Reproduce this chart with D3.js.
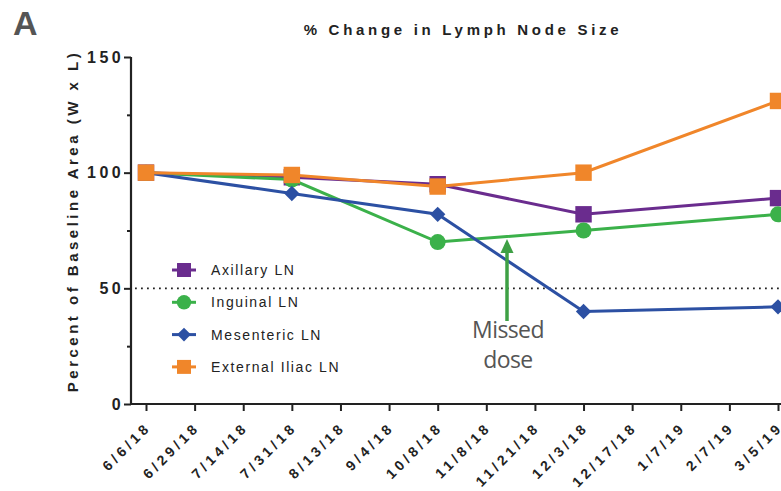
<!DOCTYPE html>
<html>
<head>
<meta charset="utf-8">
<script src="https://cdn.jsdelivr.net/npm/d3@7"></script>
<style>
  body { margin: 0; background: #fff; }
  svg { display: block; font-family: Arial, "Liberation Sans", sans-serif; }
</style>
</head>
<body>
<div id="chart"></div>
<script>
// tick labels along the x axis (categorical, evenly spaced)
var dates = ['6/6/18', '6/29/18', '7/14/18', '7/31/18', '8/13/18', '9/4/18', '10/8/18',
  '11/8/18', '11/21/18', '12/3/18', '12/17/18', '1/7/19', '2/7/19', '3/5/19'];

// dates that were measured
var visits = ['6/6/18', '7/31/18', '10/8/18', '12/3/18', '3/5/19'];

var seriesNames = ['Axillary LN', 'Inguinal LN', 'Mesenteric LN', 'External Iliac LN'];
var axillary = [100, 98, 95, 82, 89];
var inguinal = [100, 97, 70, 75, 82];
var mesenteric = [100, 91, 82, 40, 42];
var iliac = [100, 99, 94, 100, 131];

var yTicks = [0, 50, 100, 150];
var yMinor = [25, 75, 125];

var width = 781, height = 491;
var margin = {left: 131, top: 57, right: 3, bottom: 87};

var svg = d3.select('#chart').append('svg')
  .attr('width', width)
  .attr('height', height);

var x = d3.scalePoint()
  .domain(dates)
  .range([146, 778]);

var y = d3.scaleLinear()
  .domain([0, 150])
  .range([height - margin.bottom, margin.top]);

var series = [
  {name: seriesNames[0], values: axillary, color: '#6a2c8e', shape: 'square'},
  {name: seriesNames[1], values: inguinal, color: '#3bb14a', shape: 'circle'},
  {name: seriesNames[2], values: mesenteric, color: '#2c50a3', shape: 'diamond'},
  {name: seriesNames[3], values: iliac, color: '#f0862a', shape: 'square'}
];

function symbolPath(shape) {
  if (shape === 'square') return d3.symbol().type(d3.symbolSquare).size(270)();
  if (shape === 'circle') return d3.symbol().type(d3.symbolCircle).size(200)();
  return d3.symbol().type(d3.symbolDiamond2).size(150)();
}

// title + panel letter
svg.append('text')
  .attr('x', 13).attr('y', 35)
  .style('font-size', '34px').style('font-weight', 'bold')
  .attr('fill', '#555')
  .text('A');

svg.append('text')
  .attr('x', 463).attr('y', 35)
  .attr('text-anchor', 'middle')
  .style('font-size', '15px').style('font-weight', 'bold')
  .style('letter-spacing', '3.7px')
  .attr('fill', '#222')
  .text('% Change in Lymph Node Size');

// y axis
var yAxis = svg.append('g')
  .attr('transform', 'translate(' + margin.left + ',0)')
  .call(d3.axisLeft(y).tickValues(yTicks).tickSize(7).tickPadding(0).tickFormat(d3.format('d')));
yAxis.selectAll('.tick line').attr('stroke', '#222').attr('stroke-width', 2);
svg.append('g')
  .attr('transform', 'translate(' + margin.left + ',0)')
  .call(d3.axisLeft(y).tickValues(yMinor).tickSize(4).tickFormat(''))
  .call(function(g) { g.select('.domain').remove(); })
  .selectAll('.tick line').attr('stroke', '#222').attr('stroke-width', 2);
yAxis.select('.domain').attr('stroke', '#222').attr('stroke-width', 2.2)
  .attr('d', 'M0,' + y(150) + 'V' + y(0));
yAxis.selectAll('.tick text')
  .style('font-size', '16px').style('font-weight', 'bold')
  .style('letter-spacing', '3.4px')
  .attr('fill', '#222');

svg.append('text')
  .attr('transform', 'translate(78,221) rotate(-90)')
  .attr('text-anchor', 'middle')
  .style('font-size', '15px').style('font-weight', 'bold')
  .style('letter-spacing', '3.5px')
  .attr('fill', '#222')
  .text('Percent of Baseline Area (W x L)');

// x axis
var xAxis = svg.append('g')
  .attr('transform', 'translate(0,' + y(0) + ')')
  .call(d3.axisBottom(x).tickSize(7).tickFormat(''));
xAxis.select('.domain').attr('stroke', '#222').attr('stroke-width', 2.2)
  .attr('d', 'M' + margin.left + ',0H' + width);
xAxis.selectAll('.tick line').attr('stroke', '#222').attr('stroke-width', 2);

svg.append('g')
  .selectAll('text')
  .data(dates)
  .join('text')
  .attr('transform', function(d) { return 'translate(' + (x(d) + 6) + ',' + (y(0) + 24) + ') rotate(-45)'; })
  .attr('text-anchor', 'end')
  .style('font-size', '14px').style('font-weight', 'bold')
  .style('letter-spacing', '3.8px')
  .attr('fill', '#222')
  .text(function(d) { return d; });

// dotted 50% line
svg.append('line')
  .attr('x1', margin.left + 4).attr('x2', width)
  .attr('y1', y(50)).attr('y2', y(50))
  .attr('stroke', '#222').attr('stroke-width', 1.8)
  .attr('stroke-dasharray', '1.8,4.2');

// series lines and markers
var line = d3.line()
  .x(function(d, i) { return x(visits[i]); })
  .y(function(d) { return y(d); });

var groups = svg.append('g')
  .selectAll('g')
  .data(series)
  .join('g');

groups.append('path')
  .attr('d', function(d) { return line(d.values); })
  .attr('fill', 'none')
  .attr('stroke', function(d) { return d.color; })
  .attr('stroke-width', 3);

groups.each(function(s) {
  d3.select(this).selectAll('path.pt')
    .data(s.values)
    .join('path')
    .attr('class', 'pt')
    .attr('d', symbolPath(s.shape))
    .attr('transform', function(d, i) { return 'translate(' + x(visits[i]) + ',' + y(d) + ')'; })
    .attr('fill', s.color);
});

// legend
var legend = svg.append('g')
  .selectAll('g')
  .data(series)
  .join('g')
  .attr('transform', function(d, i) { return 'translate(184,' + (270 + i * 32.3) + ')'; });

legend.append('line')
  .attr('x1', -12).attr('x2', 12)
  .attr('stroke', function(d) { return d.color; })
  .attr('stroke-width', 3);
legend.append('path')
  .attr('d', function(d) { return symbolPath(d.shape); })
  .attr('transform', function(d) { return d.shape === 'square' ? 'scale(0.85)' : 'scale(0.9)'; })
  .attr('fill', function(d) { return d.color; });
legend.append('text')
  .attr('x', 27).attr('y', 5)
  .style('font-size', '14px')
  .style('letter-spacing', '1.6px')
  .attr('fill', '#222')
  .text(function(d) { return d.name; });

// missed dose annotation
var ax = 507;
svg.append('line')
  .attr('x1', ax).attr('x2', ax)
  .attr('y1', 321).attr('y2', 250)
  .attr('stroke', '#3ea045').attr('stroke-width', 3.5);
svg.append('path')
  .attr('d', 'M' + (ax - 6.5) + ',253L' + ax + ',239L' + (ax + 6.5) + ',253Z')
  .attr('fill', '#3ea045');

var noteFont = '"Open Sans", "Noto Sans", sans-serif';
svg.append('text')
  .attr('x', 508).attr('y', 338)
  .attr('text-anchor', 'middle')
  .style('font-family', noteFont)
  .style('font-size', '23px')
  .style('letter-spacing', '-0.6px')
  .attr('fill', '#555')
  .text('Missed');
svg.append('text')
  .attr('x', 508).attr('y', 368)
  .attr('text-anchor', 'middle')
  .style('font-family', noteFont)
  .style('font-size', '23px')
  .style('letter-spacing', '-0.6px')
  .attr('fill', '#555')
  .text('dose');
</script>
</body>
</html>
